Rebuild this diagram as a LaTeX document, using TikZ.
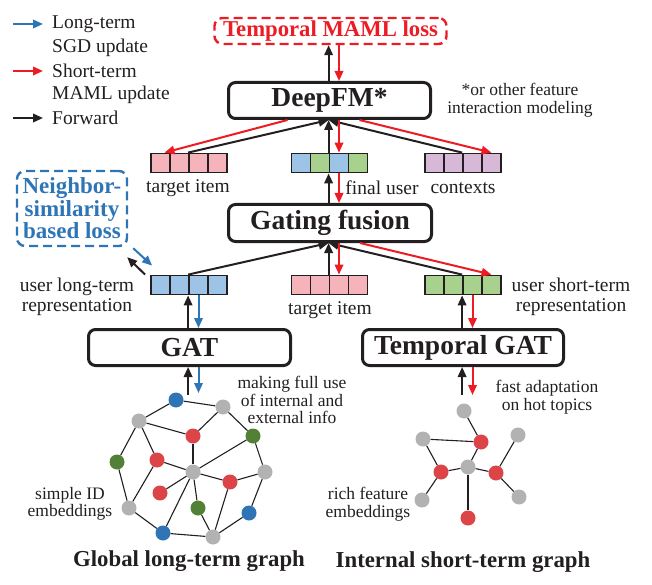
\documentclass[tikz,border=0pt]{standalone}
\usepackage{fontspec}
\setmainfont{Liberation Serif}
\usetikzlibrary{arrows.meta,calc}
\definecolor{arrred}{RGB}{237,28,36}
\definecolor{arrblue}{RGB}{46,117,182}
\definecolor{txt}{RGB}{35,31,32}
\definecolor{vpink}{RGB}{245,180,186}
\definecolor{vblue}{RGB}{157,195,230}
\definecolor{vgreen}{RGB}{169,209,142}
\definecolor{vpurple}{RGB}{215,184,215}
\definecolor{gblue}{RGB}{47,117,181}
\definecolor{gred}{RGB}{221,68,72}
\definecolor{ggray}{RGB}{178,178,178}
\definecolor{ggreen}{RGB}{83,128,55}
\newcommand\vecrow[7]{%
  \node[cellbox,fill=#4] (#1-1) at ({#2-28.5},#3) {};
  \node[cellbox,fill=#5] (#1-2) at ({#2-9.5},#3) {};
  \node[cellbox,fill=#6] (#1-3) at ({#2+9.5},#3) {};
  \node[cellbox,fill=#7] (#1-4) at ({#2+28.5},#3) {};}
\begin{document}
\begin{tikzpicture}[x=1pt,y=-1pt,
  cellbox/.style={draw=txt,line width=1.8pt,minimum width=19pt,minimum height=19pt,inner sep=0pt},
  bigbox/.style={draw=txt,line width=3pt,rounded corners=7pt,fill=white,inner sep=0pt,
    font=\fontsize{27.5}{28}\selectfont\bfseries,text=txt},
  lossbox/.style={draw=#1,dashed,dash pattern=on 9pt off 5pt,line width=2.4pt,rounded corners=8pt,
    inner sep=0pt,align=center,text=#1},
  fwd/.style={draw=txt,line width=2pt,-{Triangle[length=10pt,width=8.5pt]}},
  redarr/.style={draw=arrred,line width=2pt,-{Triangle[length=10pt,width=8.5pt]}},
  bluearr/.style={draw=arrblue,line width=2pt,-{Triangle[length=10pt,width=8.5pt]}},
  lbl/.style={inner sep=0pt,align=center,text=txt,font=\fontsize{19.5}{20}\selectfont},
  sml/.style={inner sep=0pt,align=center,text=txt,font=\fontsize{17.5}{17.5}\selectfont},
  ttl/.style={inner sep=0pt,text=txt,font=\fontsize{22.8}{24}\selectfont\bfseries},
  gnode/.style={circle,minimum size=15pt,inner sep=0pt},
  gedge/.style={draw=txt,line width=1.1pt}]
\useasboundingbox (0,0) rectangle (652,585);

% legend
\node[lbl,anchor=west] (lg1) at (52,24) {Long-term};
\node[lbl,anchor=west] (lg2) at (52,48) {SGD update};
\node[lbl,anchor=west] (lg3) at (52,71) {Short-term};
\node[lbl,anchor=west] (lg4) at (52,95) {MAML update};
\node[lbl,anchor=west] (lg5) at (52,118) {Forward};
\coordinate (la) at (13,24);
\coordinate (lr) at (13,71);
\coordinate (lk) at (13,118);
\draw[bluearr] (la) -- ([xshift=-9pt]lg1.west |- la);
\draw[redarr] (lr) -- ([xshift=-9pt]lg3.west |- lr);
\draw[fwd] (lk) -- ([xshift=-9pt]lg5.west |- lk);

% main boxes
\node[lossbox=arrred,minimum width=232pt,minimum height=26pt,
  font=\fontsize{22.7}{23}\selectfont\bfseries] (maml) at (330.5,31) {Temporal MAML loss};
\node[bigbox,minimum width=202pt,minimum height=36pt] (deepfm) at (329.5,100.5) {DeepFM*};
\node[bigbox,minimum width=203pt,minimum height=37pt] (gate) at (330,223) {Gating fusion};
\node[bigbox,minimum width=202pt,minimum height=36pt] (gat) at (189.5,347.5) {GAT};
\node[bigbox,minimum width=201pt,minimum height=36pt] (tgat) at (463,347.5) {Temporal GAT};
\node[lossbox=arrblue,minimum width=110pt,minimum height=75pt,
  font=\fontsize{23}{22.5}\selectfont\bfseries] (nb) at (72,208.5) {Neighbor-\\similarity\\based loss};

% vectors
\vecrow{ti}{189}{163}{vpink}{vpink}{vpink}{vpink}
\vecrow{fu}{329.5}{163}{vblue}{vgreen}{vblue}{vgreen}
\vecrow{ctx}{463}{163}{vpurple}{vpurple}{vpurple}{vpurple}
\vecrow{lt}{189}{285}{vblue}{vblue}{vblue}{vblue}
\vecrow{tt}{329.5}{285}{vpink}{vpink}{vpink}{vpink}
\vecrow{st}{463}{285}{vgreen}{vgreen}{vgreen}{vgreen}

% vector labels
\node[lbl] (lti) at (188,188) {target item};
\node[lbl] (lfu) at (382,188) {final user};
\node[lbl] (lctx) at (463,188) {contexts};
\node[lbl] (ltt) at (330,310) {target item};
\node[lbl] (llt) at (77,297) {user long-term\\representation};
\node[lbl] (lst) at (571,297) {user short-term\\representation};
\node[sml] (note) at (520,100) {*or other feature\\interaction modeling};
\node[sml] (lmk) at (292,400) {making full use\\of internal and\\external info};
\node[sml] (lfa) at (547,397) {fast adaptation\\on hot topics};
\node[sml] (lsi) at (70,504) {simple ID\\embeddings};
\node[sml] (lri) at (368,504) {rich feature\\embeddings};
\node[ttl] (tg) at (189,561) {Global long-term graph};
\node[ttl] (ts) at (463,562) {Internal short-term graph};

% arrows: DeepFM <-> MAML
\draw[fwd] (deepfm.north -| fu-3.north west) -- (maml.south -| fu-3.north west);
\draw[redarr] (maml.south -| fu-3.north) -- (deepfm.north -| fu-3.north);
% DeepFM <-> row 1
\draw[fwd] (ti-3.north west) -- (deepfm.south -| fu-3.north west);
\draw[fwd] (ctx-3.north west) -- (deepfm.south -| fu-3.north west);
\draw[fwd] (fu-3.north west) -- (deepfm.south -| fu-3.north west);
\draw[redarr] (deepfm.south -| fu-3.north) -- (fu-3.north);
\draw[redarr] ([xshift=-42pt]deepfm.south) -- ([xshift=4pt]ti-1.north);
\draw[redarr] ([xshift=30pt]deepfm.south) -- (ctx-4.north);
% Gating <-> row 1
\draw[fwd] (gate.north -| fu-3.south west) -- (fu-3.south west);
\draw[redarr] (fu-3.south) -- (gate.north -| fu-3.south);
% row 2 -> Gating
\draw[fwd] (lt-3.north west) -- (gate.south -| tt-3.north west);
\draw[fwd] (st-3.north west) -- (gate.south -| tt-3.north west);
\draw[fwd] (tt-3.north west) -- (gate.south -| tt-3.north west);
\draw[redarr] (gate.south -| tt-3.north) -- (tt-3.north);
\draw[redarr] ([xshift=30pt]gate.south) -- (st-4.north);
% GAT
\draw[fwd] (gat.north -| lt-3.south west) -- (lt-3.south west);
\draw[bluearr] (lt-3.south) -- (gat.north -| lt-3.south);
\draw[fwd] (tgat.north -| st-3.south west) -- (st-3.south west);
\draw[redarr] (st-3.south) -- (tgat.north -| st-3.south);
% below GAT boxes
\coordinate (gin) at ($(gat.south -| lt-3.south west)+(0,28)$);
\coordinate (gout) at ($(gat.south -| lt-3.south)+(0,26)$);
\coordinate (tin) at ($(tgat.south -| st-3.south west)+(0,28)$);
\coordinate (tout) at ($(tgat.south -| st-3.south)+(0,28)$);
\draw[fwd] (gin) -- (gat.south -| lt-3.south west);
\draw[bluearr] (gat.south -| lt-3.south) -- (gout);
\draw[fwd] (tin) -- (tgat.south -| st-3.south west);
\draw[redarr] (tgat.south -| st-3.south) -- (tout);
% neighbor loss
\draw[bluearr] ([shift={(5,1)}]nb.south east) -- ([shift={(2,-9)}]lt-1.north west);
\draw[fwd] ([shift={(-5,0)}]lt-1.north west) -- ([shift={(-1,10)}]nb.south east);

% global graph
\node[gnode,fill=gblue] (a1) at (176,400) {};
\node[gnode,fill=ggray] (a2) at (223,407) {};
\node[gnode,fill=ggray] (a3) at (139,421) {};
\node[gnode,fill=gred] (a4) at (193,436) {};
\node[gnode,fill=ggreen] (a5) at (253,436) {};
\node[gnode,fill=ggreen] (a6) at (117,462) {};
\node[gnode,fill=gred] (a7) at (157,460) {};
\node[gnode,fill=ggray] (a8) at (193,472) {};
\node[gnode,fill=ggray] (a9) at (265,472) {};
\node[gnode,fill=gred] (a10) at (230,482) {};
\node[gnode,fill=gred] (a11) at (160,493) {};
\node[gnode,fill=ggreen] (a12) at (198,508) {};
\node[gnode,fill=ggray] (a13) at (129,508) {};
\node[gnode,fill=gblue] (a14) at (249,513) {};
\node[gnode,fill=gblue] (a15) at (163,533) {};
\node[gnode,fill=ggray] (a16) at (213,537) {};
\foreach \u/\v in {a1/a2,a1/a3,a3/a4,a2/a4,a2/a5,a3/a6,a3/a7,a6/a13,a13/a7,a7/a8,a4/a8,a5/a8,a5/a9,
  a8/a10,a10/a9,a8/a11,a8/a15,a8/a12,a10/a16,a12/a16,a9/a14,a14/a16,a13/a15,a15/a16}
  \draw[gedge] (\u) -- (\v);

% short-term graph
\node[gnode,fill=ggray] (b1) at (464,411) {};
\node[gnode,fill=ggray] (b2) at (423,439) {};
\node[gnode,fill=gred] (b3) at (481,442) {};
\node[gnode,fill=ggray] (b4) at (518,435) {};
\node[gnode,fill=gred] (b5) at (441,472) {};
\node[gnode,fill=ggray] (b6) at (468,467) {};
\node[gnode,fill=gred] (b7) at (496,473) {};
\node[gnode,fill=ggray] (b8) at (422,500) {};
\node[gnode,fill=ggray] (b9) at (519,497) {};
\node[gnode,fill=gred] (b10) at (468,518) {};
\foreach \u/\v in {b1/b3,b2/b3,b2/b5,b3/b6,b5/b6,b6/b7,b7/b4,b7/b9,b5/b8,b6/b10}
  \draw[gedge] (\u) -- (\v);
\end{tikzpicture}
\end{document}
